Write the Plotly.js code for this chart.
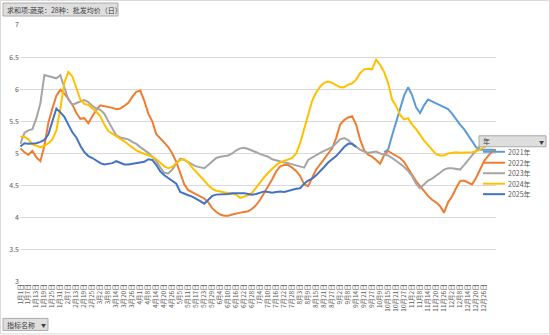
<!DOCTYPE html>
<html>
<head>
<meta charset="utf-8">
<script src="https://cdn.plot.ly/plotly-3.0.1.min.js"></script>
<style>html,body{margin:0;padding:0;background:#fff;}#chart{width:550px;height:335px;}</style>
</head>
<body>
<div id="chart"></div>
<script>
// tick label categories (every 6th date on the category axis)
const tickLabels = ["1月1日","1月7日","1月13日","1月19日","1月25日","1月31日","2月7日","2月13日","2月19日","2月25日",
"3月2日","3月8日","3月14日","3月20日","3月26日","4月1日","4月8日","4月14日","4月20日","4月26日",
"5月5日","5月11日","5月17日","5月23日","5月29日","6月4日","6月10日","6月16日","6月22日","6月28日",
"7月4日","7月10日","7月16日","7月22日","7月28日","8月3日","8月9日","8月15日","8月21日","8月27日",
"9月2日","9月8日","9月14日","9月21日","9月27日","10月9日","10月15日","10月21日","10月27日","11月2日",
"11月8日","11月14日","11月20日","11月26日","12月2日","12月8日","12月14日","12月20日","12月26日"];
const tickPos = [0,1,2,3,4,5,6,7,8,9,10,11,12,13,14,15,16,17,18,19,20,21,22,23,24,25,26,27,28,29,
30,31,32,33,34,35,36,37,38,39,40,41,42,43,44,45,46,47,48,49,50,51,52,53,54,55,56,57,58];

// sample positions along the category axis (in tick-label units)
const samplePos = [0,0.5,1,1.5,2,2.5,3,3.5,4,4.5,5,5.5,6,6.5,7,7.5,8,8.5,9,9.5,
10,10.5,11,11.5,12,12.5,13,13.5,14,14.5,15,15.5,16,16.5,17,17.5,18,18.5,19,19.5,
20,20.5,21,21.5,22,22.5,23,23.5,24,24.5,25,25.5,26,26.5,27,27.5,28,28.5,29,29.5,
30,30.5,31,31.5,32,32.5,33,33.5,34,34.5,35,35.5,36,36.5,37,37.5,38,38.5,39,39.5,
40,40.5,41,41.5,42,42.5,43,43.5,44,44.5,45,45.5,46,46.5,47,47.5,48,48.5,49,49.5,
50,50.5,51,51.5,52,52.5,53,53.5,54,54.5,55,55.5,56,56.5,57,57.5,58,58.5,59,59.5];

const seriesNames = ["2021年","2022年","2023年","2024年","2025年"];
const seriesColors = ["#5B9BD5","#ED7D31","#A5A5A5","#FFC000","#4472C4"];

const y2021 = [null,null,null,null,null,null,null,null,null,null,
null,null,null,null,null,null,null,null,null,null,
null,null,null,null,null,null,null,null,null,null,
null,null,null,null,null,null,null,null,null,null,
null,null,null,null,null,null,null,null,null,null,
null,null,null,null,null,null,null,null,null,null,
null,null,null,null,null,null,null,null,null,null,
null,null,null,null,null,null,null,null,null,null,
null,null,null,null,null,null,null,null,null,null,
null,5.02,5.06,5.28,5.5,5.68,5.9,6.03,5.91,5.72,
5.63,5.75,5.84,5.81,5.78,5.76,5.73,5.69,5.62,5.53,
5.45,5.38,5.29,5.19,5.1,5.06,5.06,5.07,5.06,5.05];

const y2022 = [5.08,5.02,4.98,5.04,4.94,4.88,5.12,5.48,5.7,5.9,
5.99,5.93,5.85,5.76,5.63,5.54,5.55,5.47,5.58,5.68,
5.75,5.74,5.73,5.71,5.69,5.7,5.74,5.79,5.88,5.96,
5.98,5.82,5.62,5.5,5.3,5.24,5.17,5.1,5.0,4.87,
4.7,4.52,4.43,4.4,4.37,4.33,4.3,4.24,4.15,4.09,
4.05,4.03,4.03,4.05,4.07,4.08,4.09,4.1,4.14,4.2,
4.28,4.38,4.5,4.6,4.72,4.8,4.82,4.82,4.78,4.73,
4.65,4.52,4.49,4.62,4.75,4.83,4.92,5.0,5.08,5.24,
5.45,5.52,5.56,5.58,5.45,5.22,5.05,4.98,4.95,4.9,
4.84,4.97,5.04,5.0,4.97,4.93,4.87,4.78,4.67,4.57,
4.49,4.41,4.34,4.28,4.24,4.18,4.08,4.24,4.33,4.46,
4.57,4.58,4.55,4.52,4.62,4.75,4.88,4.96,5.03,5.06];

const y2023 = [5.15,5.32,5.36,5.38,5.55,5.78,6.22,6.2,6.18,6.17,
6.22,6.03,5.84,5.76,5.79,5.81,5.83,5.8,5.74,5.7,
5.68,5.62,5.5,5.38,5.28,5.25,5.23,5.22,5.18,5.15,
5.1,5.06,5.01,4.95,4.88,4.78,4.7,4.69,4.75,4.84,
4.92,4.9,4.86,4.83,4.8,4.78,4.77,4.82,4.87,4.93,
4.95,4.96,4.97,5.0,5.05,5.08,5.09,5.07,5.05,5.02,
4.99,4.97,4.95,4.91,4.89,4.88,4.86,4.85,4.83,4.82,
4.8,4.78,4.9,4.94,4.98,5.01,5.04,5.07,5.1,5.16,
5.22,5.24,5.21,5.15,5.1,5.06,5.03,5.01,5.02,5.03,
5.0,4.98,4.97,4.93,4.89,4.84,4.79,4.73,4.65,4.53,
4.46,4.52,4.58,4.61,4.65,4.7,4.75,4.77,4.77,4.76,
4.75,4.82,4.9,4.97,5.04,5.12,5.17,5.2,5.23,5.22];

const y2024 = [5.26,5.26,5.22,5.14,5.12,5.1,5.12,5.16,5.22,5.36,
5.7,6.1,6.27,6.2,6.02,5.84,5.77,5.76,5.7,5.65,
5.58,5.45,5.35,5.31,5.28,5.24,5.19,5.14,5.09,5.05,
5.02,5.0,4.98,4.95,4.91,4.85,4.8,4.77,4.79,4.85,
4.9,4.91,4.86,4.78,4.71,4.65,4.58,4.51,4.45,4.42,
4.41,4.4,4.39,4.38,4.36,4.31,4.33,4.35,4.39,4.47,
4.56,4.63,4.7,4.76,4.82,4.86,4.88,4.9,4.93,5.0,
5.16,5.38,5.62,5.82,5.95,6.04,6.1,6.12,6.1,6.06,
6.03,6.03,6.07,6.09,6.15,6.25,6.31,6.32,6.31,6.46,
6.38,6.27,6.1,5.84,5.74,5.6,5.53,5.55,5.45,5.38,
5.28,5.2,5.13,5.06,4.99,4.97,4.97,5.0,5.01,5.02,
5.01,5.01,5.02,5.02,5.03,5.06,5.1,5.13,5.14,5.15];

const y2025 = [5.11,5.16,5.15,5.15,5.16,5.18,5.21,5.3,5.5,5.7,
5.64,5.57,5.45,5.33,5.25,5.12,5.02,4.96,4.93,4.89,
4.85,4.83,4.84,4.85,4.88,4.85,4.83,4.83,4.84,4.84,
4.85,4.87,4.91,4.9,4.82,4.72,4.66,4.62,4.58,4.53,
4.4,4.37,4.35,4.33,4.3,4.26,4.22,4.28,4.34,4.36,
4.36,4.36,4.37,4.38,4.38,4.39,4.38,4.37,4.36,4.37,
4.39,4.41,4.4,4.39,4.4,4.41,4.4,4.42,4.44,4.45,
4.46,4.53,4.58,4.61,4.66,4.72,4.79,4.86,4.91,4.96,
5.03,5.1,5.15,5.15,5.1,null,null,null,null,null,
null,null,null,null,null,null,null,null,null,null,
null,null,null,null,null,null,null,null,null,null,
null,null,null,null,null,null,null,null,null,null];

const seriesValues = [y2021, y2022, y2023, y2024, y2025];

const FONT = '"Noto Sans CJK SC", "Noto Sans", sans-serif';
const W = 550, H = 335;
const M = {l: 20, r: 54, t: 25, b: 52.5};
const PW = W - M.l - M.r, PH = H - M.t - M.b;
const px = x => (x - M.l) / PW;
const py = y => (H - M.b - y) / PH;

const traces = seriesNames.map((n, i) => ({
  type: 'scatter', mode: 'lines', name: n,
  x: samplePos, y: seriesValues[i],
  line: {color: seriesColors[i], width: 2},
  connectgaps: false, hoverinfo: 'skip'
}));

const shapes = [];
const annotations = [];
// outer chart frame
shapes.push({type:'rect', xref:'paper', yref:'paper', x0:px(0.5), x1:px(549.5), y0:py(0.5), y1:py(334.5),
  line:{color:'#D9D9D9', width:1}, fillcolor:'rgba(0,0,0,0)', layer:'below'});
// field buttons
function button(x0, y0, x1, y1) {
  shapes.push({type:'rect', xref:'paper', yref:'paper', x0:px(x0), x1:px(x1), y0:py(y1), y1:py(y0),
    line:{color:'#ABABAB', width:1}, fillcolor:'#DEDEDE'});
}
button(3, 3, 118, 16);
annotations.push({xref:'paper', yref:'paper', x:px(5), y:py(9.8), xanchor:'left', yanchor:'middle',
  text:'求和项:蔬菜：28种：批发均价（日）', showarrow:false, font:{family:FONT, size:7, color:'#404040'}});
button(3, 319, 48, 331);
annotations.push({xref:'paper', yref:'paper', x:px(5), y:py(325.3), xanchor:'left', yanchor:'middle',
  text:'指标名称', showarrow:false, font:{family:FONT, size:7, color:'#404040'}});
annotations.push({xref:'paper', yref:'paper', x:px(43), y:py(325.3), xanchor:'center', yanchor:'middle',
  text:'▼', showarrow:false, font:{family:FONT, size:5, color:'#404040'}});
button(479, 136, 546, 147);
annotations.push({xref:'paper', yref:'paper', x:px(481), y:py(141.5), xanchor:'left', yanchor:'middle',
  text:'年', showarrow:false, font:{family:FONT, size:7, color:'#404040'}});
annotations.push({xref:'paper', yref:'paper', x:px(541), y:py(141.5), xanchor:'center', yanchor:'middle',
  text:'▼', showarrow:false, font:{family:FONT, size:5, color:'#404040'}});
// legend entries
const legY = [152, 163, 173.5, 184, 194.5];
seriesNames.forEach((n, i) => {
  shapes.push({type:'line', xref:'paper', yref:'paper', x0:px(483), x1:px(505), y0:py(legY[i]), y1:py(legY[i]),
    line:{color:seriesColors[i], width:2}});
  annotations.push({xref:'paper', yref:'paper', x:px(506), y:py(legY[i]), xanchor:'left', yanchor:'middle',
    text:n, showarrow:false, font:{family:FONT, size:7, color:'#595959'}});
});

const layout = {
  width: W, height: H,
  margin: M,
  paper_bgcolor: '#FFFFFF', plot_bgcolor: '#FFFFFF',
  showlegend: false,
  font: {family: FONT, size: 7, color: '#595959'},
  xaxis: {
    range: [-0.05, 59.5], tickmode: 'array', tickvals: tickPos, ticktext: tickLabels,
    tickangle: -90, showgrid: false, zeroline: false, showline: false, ticks: '',
    tickfont: {family: FONT, size: 6.5, color: '#595959'}, fixedrange: true
  },
  yaxis: {
    range: [3, 7], dtick: 0.5, tick0: 3, showgrid: true, gridcolor: '#D9D9D9', gridwidth: 1,
    zeroline: false, showline: false, ticks: '', ticklen: 0,
    tickfont: {family: FONT, size: 7, color: '#595959'}, fixedrange: true
  },
  shapes: shapes,
  annotations: annotations
};

Plotly.newPlot('chart', traces, layout, {displayModeBar: false, staticPlot: true});
</script>
</body>
</html>
